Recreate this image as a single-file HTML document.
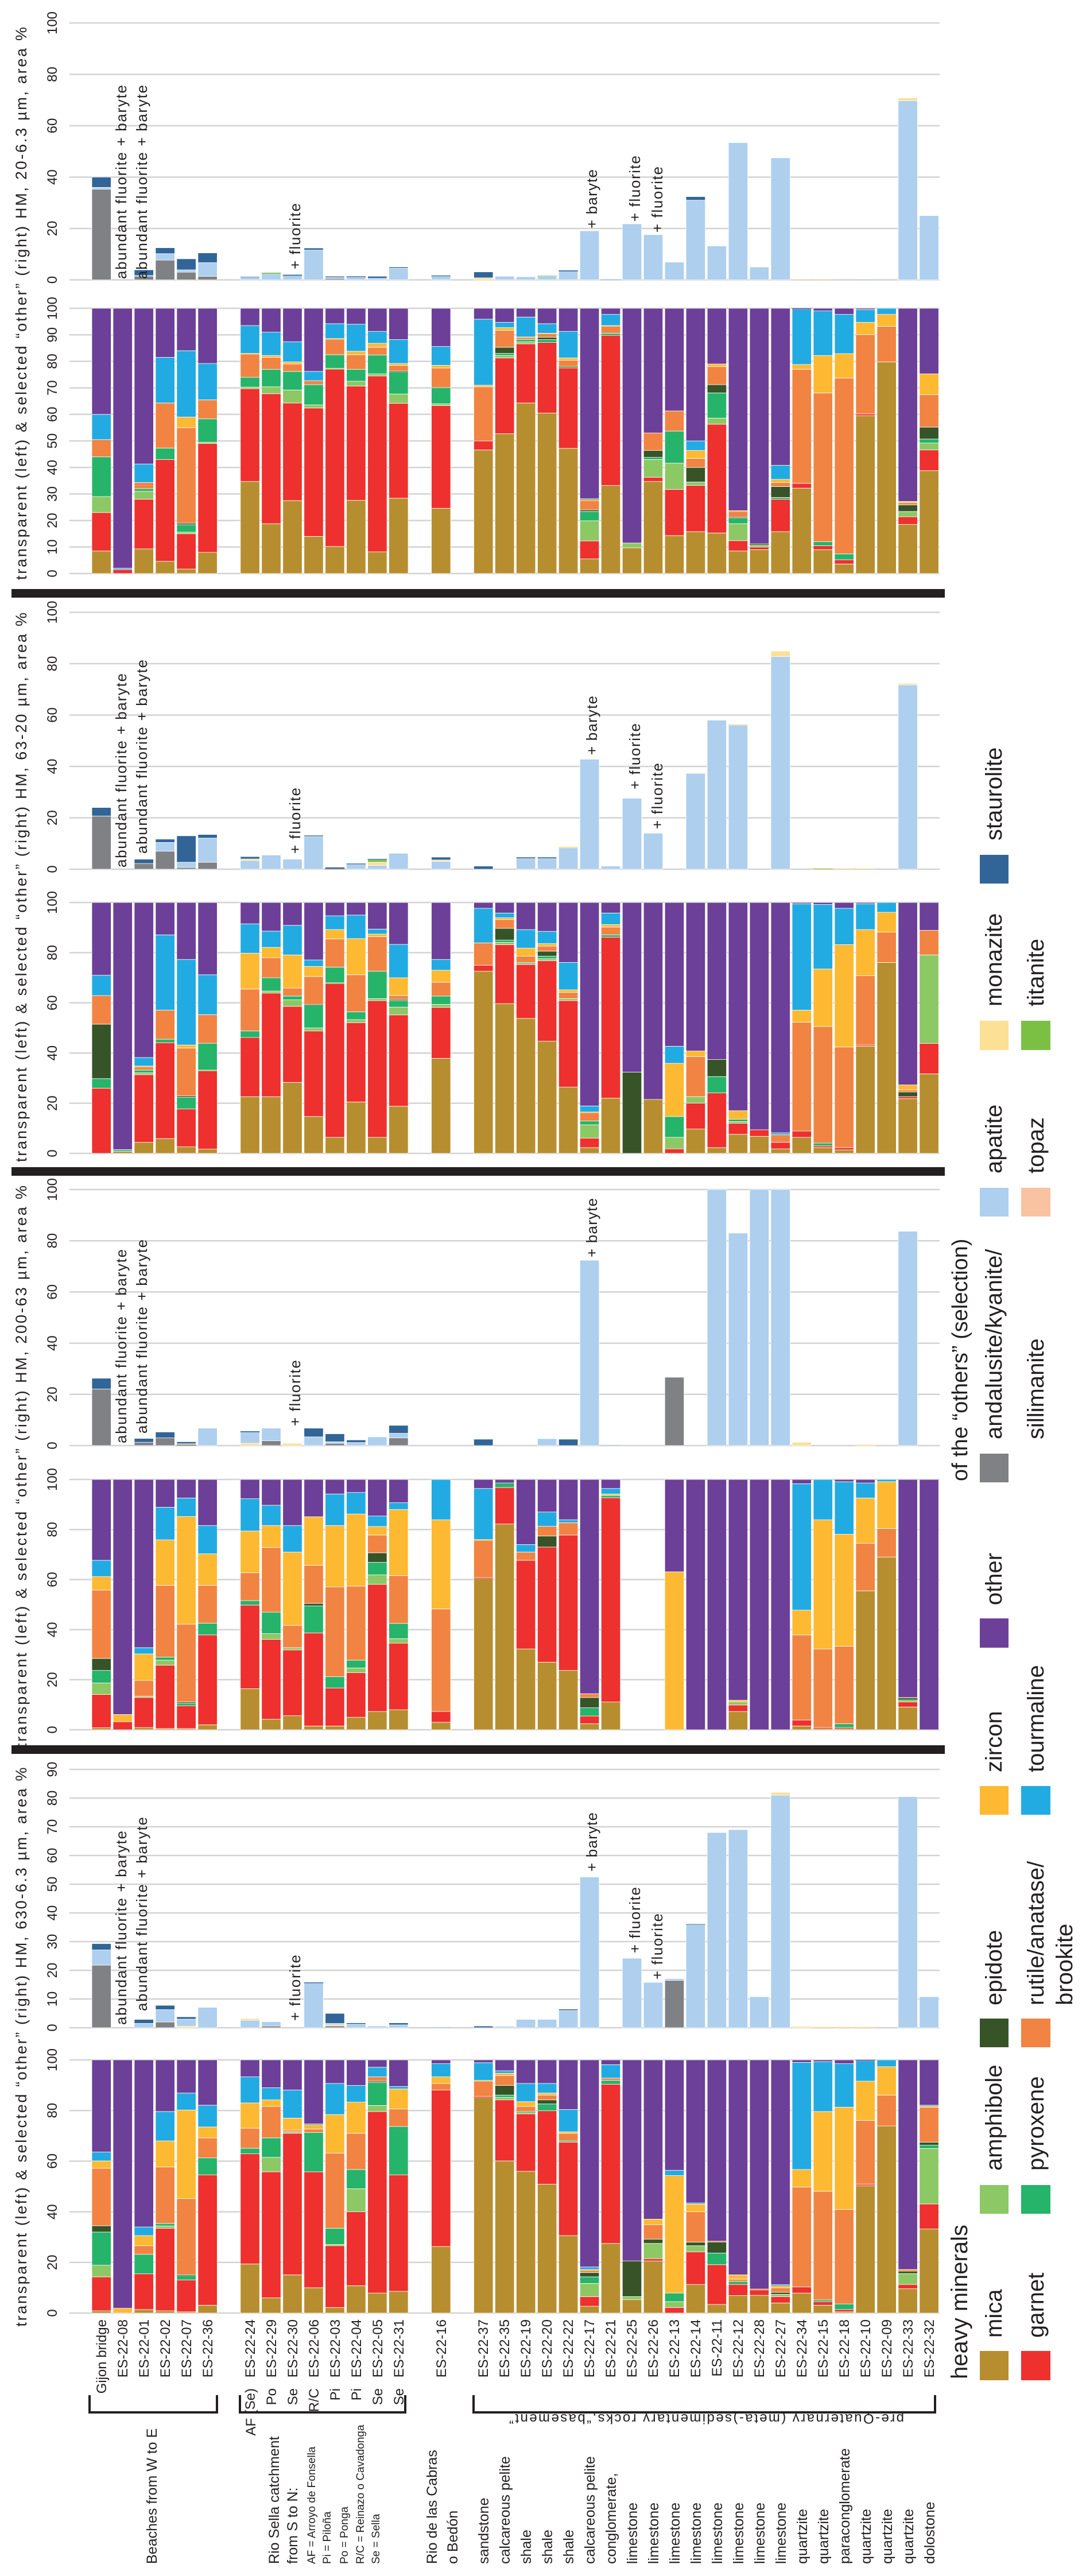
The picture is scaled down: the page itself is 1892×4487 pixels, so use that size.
<!DOCTYPE html>
<html><head><meta charset="utf-8"><style>
html,body{margin:0;padding:0;background:#fff}
svg{display:block}
text{font-family:"Liberation Sans",sans-serif;fill:#231f20}
.tk{font-size:24px;text-anchor:middle}
.ax{font-size:27px;text-anchor:middle;letter-spacing:1px}
.sl{font-size:24px;text-anchor:end}
.an{font-size:26px}
.gl{font-size:25px}
.sm{font-size:19px}
.lg{font-size:40px}
</style></head><body>
<svg id="s" width="1892" height="4487" viewBox="0 0 1892 4487" xmlns="http://www.w3.org/2000/svg">
<g id="grid"></g>
<g id="bars"></g>
<rect x="20" y="1026" width="1626" height="15" fill="#231f20"/>
<rect x="20" y="2033" width="1626" height="15" fill="#231f20"/>
<rect x="20" y="3040" width="1626" height="15" fill="#231f20"/>

<text class="ax" transform="translate(46,528) rotate(-90)" textLength="964" lengthAdjust="spacing">transparent (left) &amp; selected “other” (right) HM, 20-6.3 µm, area %</text>
<text class="ax" transform="translate(46,1545) rotate(-90)" textLength="958" lengthAdjust="spacing">transparent (left) &amp; selected “other” (right) HM, 63-20 µm, area %</text>
<text class="ax" transform="translate(46,2554) rotate(-90)" textLength="980" lengthAdjust="spacing">transparent (left) &amp; selected “other” (right) HM, 200-63 µm, area %</text>
<text class="ax" transform="translate(46,3565) rotate(-90)" textLength="975" lengthAdjust="spacing">transparent (left) &amp; selected “other” (right) HM, 630-6.3 µm, area %</text>

<g class="tk">
<text transform="translate(99,487.5) rotate(-90)">0</text><text transform="translate(99,398) rotate(-90)">20</text><text transform="translate(99,308.5) rotate(-90)">40</text><text transform="translate(99,219) rotate(-90)">60</text><text transform="translate(99,129.5) rotate(-90)">80</text><text transform="translate(99,40) rotate(-90)">100</text>
<text transform="translate(99,999) rotate(-90)">0</text><text transform="translate(99,952.8) rotate(-90)">10</text><text transform="translate(99,906.6) rotate(-90)">20</text><text transform="translate(99,860.4) rotate(-90)">30</text><text transform="translate(99,814.2) rotate(-90)">40</text><text transform="translate(99,768) rotate(-90)">50</text><text transform="translate(99,721.8) rotate(-90)">60</text><text transform="translate(99,675.6) rotate(-90)">70</text><text transform="translate(99,629.4) rotate(-90)">80</text><text transform="translate(99,583.2) rotate(-90)">90</text><text transform="translate(99,537) rotate(-90)">100</text>
<text transform="translate(99,1514) rotate(-90)">0</text><text transform="translate(99,1424.5) rotate(-90)">20</text><text transform="translate(99,1335) rotate(-90)">40</text><text transform="translate(99,1245.5) rotate(-90)">60</text><text transform="translate(99,1156) rotate(-90)">80</text><text transform="translate(99,1066.5) rotate(-90)">100</text>
<text transform="translate(99,2009) rotate(-90)">0</text><text transform="translate(99,1921.6) rotate(-90)">20</text><text transform="translate(99,1834.2) rotate(-90)">40</text><text transform="translate(99,1746.8) rotate(-90)">60</text><text transform="translate(99,1659.4) rotate(-90)">80</text><text transform="translate(99,1572) rotate(-90)">100</text>
<text transform="translate(99,2518) rotate(-90)">0</text><text transform="translate(99,2428.8) rotate(-90)">20</text><text transform="translate(99,2339.6) rotate(-90)">40</text><text transform="translate(99,2250.4) rotate(-90)">60</text><text transform="translate(99,2161.2) rotate(-90)">80</text><text transform="translate(99,2072) rotate(-90)">100</text>
<text transform="translate(99,3013) rotate(-90)">0</text><text transform="translate(99,2925.8) rotate(-90)">20</text><text transform="translate(99,2838.6) rotate(-90)">40</text><text transform="translate(99,2751.4) rotate(-90)">60</text><text transform="translate(99,2664.2) rotate(-90)">80</text><text transform="translate(99,2577) rotate(-90)">100</text>
<text transform="translate(99,3532) rotate(-90)">0</text><text transform="translate(99,3482) rotate(-90)">10</text><text transform="translate(99,3432) rotate(-90)">20</text><text transform="translate(99,3382) rotate(-90)">30</text><text transform="translate(99,3332) rotate(-90)">40</text><text transform="translate(99,3282) rotate(-90)">50</text><text transform="translate(99,3232) rotate(-90)">60</text><text transform="translate(99,3182) rotate(-90)">70</text><text transform="translate(99,3132) rotate(-90)">80</text><text transform="translate(99,3082) rotate(-90)">90</text>
<text transform="translate(99,4029) rotate(-90)">0</text><text transform="translate(99,3940.8) rotate(-90)">20</text><text transform="translate(99,3852.6) rotate(-90)">40</text><text transform="translate(99,3764.4) rotate(-90)">60</text><text transform="translate(99,3676.2) rotate(-90)">80</text><text transform="translate(99,3588) rotate(-90)">100</text>
</g>

<g class="an">
<text transform="translate(220,486) rotate(-90)" textLength="338" lengthAdjust="spacing">abundant fluorite + baryte</text>
<text transform="translate(256,486) rotate(-90)" textLength="338" lengthAdjust="spacing">abundant fluorite + baryte</text>
<text transform="translate(523,469) rotate(-90)" textLength="115" lengthAdjust="spacing">+ fluorite</text>
<text transform="translate(1040,398) rotate(-90)" textLength="103" lengthAdjust="spacing">+ baryte</text>
<text transform="translate(1115,386) rotate(-90)" textLength="115" lengthAdjust="spacing">+ fluorite</text>
<text transform="translate(1154,405) rotate(-90)" textLength="115" lengthAdjust="spacing">+ fluorite</text>

<text transform="translate(220,1511) rotate(-90)" textLength="338" lengthAdjust="spacing">abundant fluorite + baryte</text>
<text transform="translate(256,1487) rotate(-90)" textLength="338" lengthAdjust="spacing">abundant fluorite + baryte</text>
<text transform="translate(523,1487) rotate(-90)" textLength="115" lengthAdjust="spacing">+ fluorite</text>
<text transform="translate(1040,1315) rotate(-90)" textLength="103" lengthAdjust="spacing">+ baryte</text>
<text transform="translate(1115,1375) rotate(-90)" textLength="115" lengthAdjust="spacing">+ fluorite</text>
<text transform="translate(1154,1444) rotate(-90)" textLength="115" lengthAdjust="spacing">+ fluorite</text>

<text transform="translate(220,2514) rotate(-90)" textLength="338" lengthAdjust="spacing">abundant fluorite + baryte</text>
<text transform="translate(256,2497) rotate(-90)" textLength="338" lengthAdjust="spacing">abundant fluorite + baryte</text>
<text transform="translate(523,2484) rotate(-90)" textLength="115" lengthAdjust="spacing">+ fluorite</text>
<text transform="translate(1040,2190) rotate(-90)" textLength="103" lengthAdjust="spacing">+ baryte</text>

<text transform="translate(220,3527) rotate(-90)" textLength="338" lengthAdjust="spacing">abundant fluorite + baryte</text>
<text transform="translate(256,3503) rotate(-90)" textLength="338" lengthAdjust="spacing">abundant fluorite + baryte</text>
<text transform="translate(523,3520) rotate(-90)" textLength="115" lengthAdjust="spacing">+ fluorite</text>
<text transform="translate(1040,3260) rotate(-90)" textLength="103" lengthAdjust="spacing">+ baryte</text>
<text transform="translate(1115,3402) rotate(-90)" textLength="115" lengthAdjust="spacing">+ fluorite</text>
<text transform="translate(1154,3448) rotate(-90)" textLength="115" lengthAdjust="spacing">+ fluorite</text>
</g>

<g class="sl">
<text transform="translate(185,4040) rotate(-90)">Gijon bridge</text>
<text transform="translate(222,4040) rotate(-90)">ES-22-08</text>
<text transform="translate(259,4040) rotate(-90)">ES-22-01</text>
<text transform="translate(296,4040) rotate(-90)">ES-22-02</text>
<text transform="translate(333,4040) rotate(-90)">ES-22-07</text>
<text transform="translate(370,4040) rotate(-90)">ES-22-36</text>
<text transform="translate(444,4040) rotate(-90)">ES-22-24</text>
<text transform="translate(481,4040) rotate(-90)">ES-22-29</text>
<text transform="translate(518,4040) rotate(-90)">ES-22-30</text>
<text transform="translate(555,4040) rotate(-90)">ES-22-06</text>
<text transform="translate(592,4040) rotate(-90)">ES-22-03</text>
<text transform="translate(629,4040) rotate(-90)">ES-22-04</text>
<text transform="translate(666,4040) rotate(-90)">ES-22-05</text>
<text transform="translate(703,4040) rotate(-90)">ES-22-31</text>
<text transform="translate(444,4160) rotate(-90)">(Se)</text>
<text transform="translate(481,4160) rotate(-90)">Po</text>
<text transform="translate(518,4160) rotate(-90)">Se</text>
<text transform="translate(555,4160) rotate(-90)">R/C</text>
<text transform="translate(592,4160) rotate(-90)">Pi</text>
<text transform="translate(629,4160) rotate(-90)">Pi</text>
<text transform="translate(666,4160) rotate(-90)">Se</text>
<text transform="translate(703,4160) rotate(-90)">Se</text>
<text transform="translate(445,4212) rotate(-90)">AF</text>
<text transform="translate(777,4040) rotate(-90)">ES-22-16</text>
<text transform="translate(850,4040) rotate(-90)">ES-22-37</text>
<text transform="translate(887,4040) rotate(-90)">ES-22-35</text>
<text transform="translate(924,4040) rotate(-90)">ES-22-19</text>
<text transform="translate(961,4040) rotate(-90)">ES-22-20</text>
<text transform="translate(998,4040) rotate(-90)">ES-22-22</text>
<text transform="translate(1035,4040) rotate(-90)">ES-22-17</text>
<text transform="translate(1072,4040) rotate(-90)">ES-22-21</text>
<text transform="translate(1109,4040) rotate(-90)">ES-22-25</text>
<text transform="translate(1146,4040) rotate(-90)">ES-22-26</text>
<text transform="translate(1183,4040) rotate(-90)">ES-22-13</text>
<text transform="translate(1220,4040) rotate(-90)">ES-22-14</text>
<text transform="translate(1257,4040) rotate(-90)">ES-22-11</text>
<text transform="translate(1294,4040) rotate(-90)">ES-22-12</text>
<text transform="translate(1331,4040) rotate(-90)">ES-22-28</text>
<text transform="translate(1368,4040) rotate(-90)">ES-22-27</text>
<text transform="translate(1405,4040) rotate(-90)">ES-22-34</text>
<text transform="translate(1442,4040) rotate(-90)">ES-22-15</text>
<text transform="translate(1479,4040) rotate(-90)">ES-22-18</text>
<text transform="translate(1516,4040) rotate(-90)">ES-22-10</text>
<text transform="translate(1553,4040) rotate(-90)">ES-22-09</text>
<text transform="translate(1590,4040) rotate(-90)">ES-22-33</text>
<text transform="translate(1627,4040) rotate(-90)">ES-22-32</text>
</g>

<g fill="none" stroke="#231f20" stroke-width="4">
<path d="M156 4172 V4202 H378 V4172"/>
<path d="M418 4172 V4202 H706 V4172"/>
<path d="M825 4172 V4202 H1629 V4172"/>
</g>
<text style="font-size:24px;text-anchor:middle" transform="translate(1231,4205) rotate(180)" textLength="688" lengthAdjust="spacing">pre-Quaternary (meta-)sedimentary rocks,“basement”</text>

<g class="gl">
<text transform="translate(273,4466) rotate(-90)">Beaches from W to E</text>
<text transform="translate(486,4466) rotate(-90)">Rio Sella catchment</text>
<text transform="translate(518,4466) rotate(-90)">from S to N:</text>
<text transform="translate(761,4466) rotate(-90)">Rio de las Cabras</text>
<text transform="translate(797,4466) rotate(-90)">o Bedón</text>
<text transform="translate(851,4466) rotate(-90)">sandstone</text>
<text transform="translate(888,4466) rotate(-90)">calcareous pelite</text>
<text transform="translate(925,4466) rotate(-90)">shale</text>
<text transform="translate(962,4466) rotate(-90)">shale</text>
<text transform="translate(999,4466) rotate(-90)">shale</text>
<text transform="translate(1036,4466) rotate(-90)">calcareous pelite</text>
<text transform="translate(1073,4466) rotate(-90)">conglomerate,</text>
<text transform="translate(1110,4466) rotate(-90)">limestone</text>
<text transform="translate(1147,4466) rotate(-90)">limestone</text>
<text transform="translate(1184,4466) rotate(-90)">limestone</text>
<text transform="translate(1221,4466) rotate(-90)">limestone</text>
<text transform="translate(1258,4466) rotate(-90)">limestone</text>
<text transform="translate(1295,4466) rotate(-90)">limestone</text>
<text transform="translate(1332,4466) rotate(-90)">limestone</text>
<text transform="translate(1369,4466) rotate(-90)">limestone</text>
<text transform="translate(1406,4466) rotate(-90)">quartzite</text>
<text transform="translate(1443,4466) rotate(-90)">quartzite</text>
<text transform="translate(1480,4466) rotate(-90)">paraconglomerate</text>
<text transform="translate(1517,4466) rotate(-90)">quartzite</text>
<text transform="translate(1554,4466) rotate(-90)">quartzite</text>
<text transform="translate(1591,4466) rotate(-90)">quartzite</text>
<text transform="translate(1628,4466) rotate(-90)">dolostone</text>
</g>
<g class="sm">
<text transform="translate(549,4466) rotate(-90)">AF = Arroyo de Fonsella</text>
<text transform="translate(576,4466) rotate(-90)">Pi = Piloña</text>
<text transform="translate(606,4466) rotate(-90)">Po = Ponga</text>
<text transform="translate(634,4466) rotate(-90)">R/C = Reinazo o Cavadonga</text>
<text transform="translate(661,4466) rotate(-90)">Se = Sella</text>
</g>

<g>
<rect x="1707" y="1489" width="50" height="50" fill="#316598"/>
<rect x="1707" y="1778" width="50" height="51" fill="#fbe096"/>
<rect x="1779" y="1778" width="51" height="51" fill="#7bc043"/>
<rect x="1707" y="2069" width="50" height="50" fill="#aecfee"/>
<rect x="1779" y="2069" width="51" height="50" fill="#f9c3a1"/>
<rect x="1707" y="2532" width="50" height="50" fill="#808184"/>
<rect x="1707" y="2819" width="50" height="51" fill="#6c3f98"/>
<rect x="1707" y="3111" width="50" height="50" fill="#fdb931"/>
<rect x="1779" y="3111" width="51" height="50" fill="#22abe2"/>
<rect x="1707" y="3516" width="50" height="50" fill="#375429"/>
<rect x="1779" y="3516" width="51" height="50" fill="#f18442"/>
<rect x="1707" y="3806" width="50" height="50" fill="#8cc864"/>
<rect x="1779" y="3806" width="51" height="50" fill="#25b46a"/>
<rect x="1707" y="4095" width="50" height="51" fill="#b78e2f"/>
<rect x="1779" y="4095" width="51" height="51" fill="#ee302e"/>
</g>
<g class="lg">
<text transform="translate(1745,1464) rotate(-90)">staurolite</text>
<text transform="translate(1745,1753) rotate(-90)">monazite</text>
<text transform="translate(1818,1753) rotate(-90)">titanite</text>
<text transform="translate(1745,2044) rotate(-90)">apatite</text>
<text transform="translate(1818,2044) rotate(-90)">topaz</text>
<text style="font-size:38px" transform="translate(1685,2580) rotate(-90)">of the “others” (selection)</text>
<text transform="translate(1745,2507) rotate(-90)">andalusite/kyanite/</text>
<text transform="translate(1818,2507) rotate(-90)">sillimanite</text>
<text transform="translate(1745,2796) rotate(-90)">other</text>
<text transform="translate(1745,3087) rotate(-90)">zircon</text>
<text transform="translate(1818,3087) rotate(-90)">tourmaline</text>
<text transform="translate(1745,3493) rotate(-90)">epidote</text>
<text transform="translate(1818,3493) rotate(-90)">rutile/anatase/</text>
<text transform="translate(1868,3493) rotate(-90)">brookite</text>
<text transform="translate(1745,3781) rotate(-90)">amphibole</text>
<text transform="translate(1818,3781) rotate(-90)">pyroxene</text>
<text transform="translate(1685,4144) rotate(-90)">heavy minerals</text>
<text transform="translate(1745,4072) rotate(-90)">mica</text>
<text transform="translate(1818,4072) rotate(-90)">garnet</text>
</g>
</svg>
<script>
(function(){
var NS="http://www.w3.org/2000/svg";
var grid=document.getElementById("grid"),bars=document.getElementById("bars");
function R(p,x,y,w,h,f){if(h<=0.05)return;var r=document.createElementNS(NS,"rect");r.setAttribute("x",x);r.setAttribute("y",y);r.setAttribute("width",w);r.setAttribute("height",h);r.setAttribute("fill",f);if(h>2){r.setAttribute("stroke","#fff");r.setAttribute("stroke-width","0.8");}p.appendChild(r);}
function L(y){var l=document.createElementNS(NS,"line");l.setAttribute("x1",121);l.setAttribute("x2",1637);l.setAttribute("y1",y);l.setAttribute("y2",y);l.setAttribute("stroke","#d3d3d3");l.setAttribute("stroke-width","2.5");grid.appendChild(l);}
var LC=["#b78e2f","#ee302e","#8cc864","#25b46a","#375429","#f18442","#fdb931","#22abe2"],OTH="#6c3f98";
var TC={g:"#808184",a:"#aecfee",t:"#f9c3a1",m:"#fbe096",i:"#7bc043",s:"#316598"};
var P=[
{t0:487.5,t100:40,l0:999,l100:537,tt:[0,20,40,60,80,100],lt:[0,10,20,30,40,50,60,70,80,90,100],
low:{0:"8.5,23,29,44,44,50.5,50.5,60",1:"0,1.5,1.5,1.5,1.5,1.5,1.5,2",2:"9.3,28,31,32,32,34.3,34.3,41.3",3:"4.6,43,43,47.3,47.3,64.3,64.3,81.5",4:"1.7,15,15.6,18.4,19,55,59,84",5:"8,49,49.5,58.3,58.3,65.5,65.5,79.2",7:"34.7,69.7,70.3,74,74,82.7,83,93.5",8:"18.8,67.8,70.4,77,77,81.5,82.2,91",9:"27.5,64.3,69.2,76.2,76.2,79,79.8,87.4",10:"14,62.4,63.6,71.2,71.2,72.7,72.7,76.2",11:"10.2,77,77.4,82.5,82.5,88.3,88.6,94.2",12:"27.6,70.7,72.5,77,77,82.5,83.8,94",13:"8.2,74.5,75.3,82.4,82.4,85.3,86.8,91.3",14:"28.4,64.2,67.7,76,76.3,78.5,79.2,88.2",16:"24.6,63.3,64,70.1,70.1,77.5,78.5,85.6",18:"46.6,50,50,50,50,70.4,71,95.9",19:"52.7,81.3,82.2,83,85.3,91.7,92.7,94.7",20:"64.3,86.6,87.4,88.2,88.2,88.9,89.2,96.7",21:"60.5,87.1,87.1,88.2,89.1,90.4,90.6,94.2",22:"47.2,77.5,77.8,77.8,78.1,80.4,81.3,91.3",23:"5.5,12.3,19.9,23.4,24,27.5,27.9,28.2",24:"33.2,89.8,89.8,90.6,90.6,93.2,93.5,97.7",25:"9.7,9.7,11.5,11.5,11.5,11.5,11.5,11.5",26:"34.7,36.3,43,43.8,46.4,53,53,53",27:"14.3,31.7,41.6,53.7,53.7,61.3,61.3,61.3",28:"15.8,33.2,34.3,34.5,40,43.4,46.4,50",29:"15.3,56.3,58.6,68.1,71.2,78,79,79",30:"8.5,12.4,18.8,21,21.2,23.4,23.7,23.7",31:"9,10,10.8,10.8,11.2,11.2,11.2,11.2",32:"15.8,28,28,28.7,32.8,34.3,35.5,40.8",33:"32.2,34,34,34,34,77,78.8,99.7",34:"9,10.5,10.5,12,12,68.1,82.2,99",35:"3.6,5.2,5.2,7.4,7.4,73.7,82.9,97.7",36:"59.5,60.2,60.2,60.2,60.2,90.1,94.7,99.5",37:"79.8,79.8,79.8,79.8,79.8,93.2,97.7,100",38:"18.5,21.4,23.4,23.4,25.9,26.7,27.2,27.2",39:"38.8,46.6,49.2,50.7,55.2,67.4,75.3,75.3"},
top:{0:"g35.3 a36 s40",2:"g1.4 a1.7 s3.9",3:"g7.7 a10.2 s12.5",4:"g3 a3.9 s8.2",5:"g1.4 a6.7 s10.5",7:"a1.1 s1.25",8:"a2.4 i2.8",9:"a1.6 s2",10:"a11.6 s12.4",11:"g0.5 a0.9 s1.4",12:"a1.1 s1.4",13:"a0.6 s1.4",14:"a4.5 s5",16:"a1.4 s1.7",18:"m0.8 s3.1",19:"a1.4",20:"a1.2",21:"a1.4 i1.6",22:"a3.3 s3.7",23:"a19.1",24:"a0.3",25:"a21.8",26:"a17.6",27:"a6.9",28:"a31 s32.4",29:"a13.2",30:"a53.4",31:"a5",32:"a47.5",33:"m0.2",34:"m0.2",36:"a0.1",38:"a69.7 m70.8",39:"a25"}},
{t0:1514,t100:1066.5,l0:2009,l100:1572,tt:[0,20,40,60,80,100],lt:[0,20,40,60,80,100],
low:{0:"0,26,26,29.8,51.5,62.9,62.9,71",1:"0.8,0.8,0.8,1.4,1.4,1.4,1.4,1.5",2:"4.4,31.4,32.1,33.2,33.2,34.4,34.8,38.2",3:"5.9,44.1,44.1,45.5,45.5,57.1,57.1,87.1",4:"2.6,17.7,17.7,22.3,22.9,42,43.2,77.3",5:"1.7,32.9,33.2,43.9,43.9,55.3,55.3,71.2",7:"22.6,46.2,46.2,48.8,48.8,65.5,79.8,91.5",8:"22.6,63.9,64.7,70,70,78,82.1,88.6",9:"28.3,58.6,61.2,62.7,62.7,65.9,79.1,90.9",10:"14.7,48.8,50,59.1,59.4,70.5,74.5,77.1",11:"6.4,67.7,68,74.2,74.2,85.5,89.2,94.7",12:"20.5,52.1,53.3,56.4,56.4,71.2,85.6,95",13:"6.4,60.9,61.7,72.6,72.6,86.4,87.4,89.4",14:"18.8,55.2,58.3,60.9,61.4,62.9,70,83.3",16:"37.9,58.2,59.4,62.7,62.7,68.2,73,77.3",18:"72.6,75,75,75,75,83.9,83.9,97.7",19:"59.7,83.2,84.1,85,89.7,93.2,93.9,95.8",20:"53.8,75.3,75.8,76.1,76.1,78.6,81.8,89.2",21:"44.7,76.8,77.6,78.6,80.6,82.6,83.6,88.5",22:"26.4,60.9,61.7,61.7,61.7,64.2,65.2,76.1",23:"2.3,6.1,11.4,12.9,12.9,16.2,16.5,18.9",24:"22,86.2,86.2,87.1,87.1,90.2,91.2,95.8",25:"0,0,0,0,32.4,32.4,32.4,32.4",26:"21.5,21.5,21.5,21.5,21.5,21.5,21.5,21.5",27:"0,1.8,6.4,14.7,14.7,14.7,35.9,42.7",28:"9.7,20,22.6,22.6,22.6,38.6,40.8,40.8",29:"2.3,24.1,24.1,30.6,37.4,37.4,37.4,37.4",30:"7.6,12,12.7,13.6,13.6,13.6,17,17",31:"6.8,9.4,9.4,9.4,9.4,9.4,9.4,9.4",32:"1.8,4.4,4.4,4.4,4.4,7.4,7.4,8.2",33:"6.4,8.9,8.9,8.9,8.9,52.3,57.1,99.5",34:"2.3,3,3,4.1,4.1,50.6,73.5,99.2",35:"1.4,2.3,2.3,2.3,2.3,42.4,83.2,97.7",36:"42.7,43.2,43.2,43.2,43.2,70.8,89.2,99.5",37:"76.1,76.1,76.1,76.1,76.1,88.2,96.1,100",38:"21.8,22.6,22.6,22.6,24.5,25.3,27.3,27.3",39:"31.7,43.8,79.1,79.1,79.1,88.9,88.9,88.9"},
top:{0:"g20.7 s24",2:"g2.2 s3.9",3:"g7 a10.4 s11.7",4:"g0.7 a2.7 s13",5:"g2.7 a12.1 s13.5",7:"a3.4 m4 s4.9",8:"a5.5",9:"a3.9",10:"a12.7 s13.2",11:"g0.3 s0.7",12:"a1.9 s2.2",13:"a1.5 m2.7 i3.7 s4",14:"a6.2",16:"a3 m3.6 s4.7",18:"s1.2",20:"a4.1 s4.7",21:"a4.1 s4.7",22:"a8.3 m8.7",23:"a42.8",24:"a1.2",25:"a27.6",26:"a14",28:"a37.3",29:"a58",30:"a56.1 m56.4",32:"a82.8 m84.9",34:"i0.2 m0.4",35:"m0.3",36:"m0.2",38:"a71.7 m72.3"}},
{t0:2518,t100:2072,l0:3013,l100:2577,tt:[0,20,40,60,80,100],lt:[0,20,40,60,80,100],
low:{0:"0.8,14.1,18.7,23.7,28.5,55.8,61.2,67.7",1:"0,3.2,3.2,3.2,3.2,3.2,6.1,6.1",2:"0.9,12.9,13.4,13.4,13.4,19.7,30.3,32.8",3:"0.5,25.8,27.8,29,29,57.7,75.9,88.9",4:"0.5,9.6,9.6,10.6,11.1,42.2,85.2,92.6",5:"2,37.9,37.9,42.6,42.6,57.7,70.3,81.6",7:"16.4,49.8,49.8,51.6,51.6,62.7,79.4,92.3",8:"4.2,36.1,38.4,47,47,72.8,81.6,89.7",9:"5.6,31.9,32.8,32.8,32.8,41.7,71,81.6",10:"1.5,38.7,38.7,49.5,50.5,65.7,85.1,85.1",11:"1.5,16.7,16.7,21.2,21.2,57.1,81.6,94.2",12:"5,22.8,24.7,27.8,27.8,57.4,86.2,94.8",13:"7.3,58.1,61.9,66.9,70.7,77.8,81.2,85.4",14:"8,34.6,36.4,42.5,42.5,61.6,88,90.7",16:"3,7.3,7.3,7.3,7.3,48.3,83.9,100",18:"60.4,60.8,60.8,60.8,60.8,75.6,76,96.4",19:"82.2,96.8,96.8,98.6,98.6,98.6,98.6,98.6",20:"32.3,67.7,67.7,67.7,67.7,71,71,74",21:"27,73,73,73,77.4,81.3,81.3,87",22:"23.7,77.8,77.8,77.8,77.8,82.7,82.7,83.9",23:"2.4,5.5,5.5,8.8,12.9,14.4,14.4,14.4",24:"11.1,92.7,92.7,93.6,93.6,93.6,94.2,96.4",27:"0,0,0,0,0,0,63.1,63.1",28:"0,0,0,0,0,0,0,0",29:"0,0,0,0,0,0,0,0",30:"7.3,9.9,11.1,11.1,11.1,11.1,11.8,11.8",31:"0,0,0,0,0,0,0,0",32:"0,0,0,0,0,0,0,0",33:"1.5,3.9,3.9,3.9,3.9,37.9,47.8,98.3",34:"0.5,0.9,0.9,0.9,0.9,32.3,83.9,100",35:"0.5,0.9,0.9,2.4,2.4,33.4,78.1,99.1",36:"55.5,55.5,55.5,55.5,55.5,74.5,92.6,98.6",37:"69,69,69,69,69,80.4,99.1,100",38:"9.1,11.1,11.8,12.2,12.6,12.9,12.9,12.9",39:"0,0,0,0,0,0,0,0"},
top:{0:"g22.1 s26.3",2:"g1.3 s2.8",3:"g3 s5.3",4:"g0.4 m0.7 s1.5",5:"a6.8",7:"m0.9 a5.2 s5.6",8:"g1.9 a6.8",9:"m0.9",10:"a3.4 s6.8",11:"g0.9 a1.5 s4.6",12:"a1.2 s2.2",13:"a3.4",14:"g3 a4.8 s7.9",18:"s2.5",21:"a2.7",22:"s2.5",23:"a72.4",24:"a0.2",27:"g26.7",29:"a100",30:"a83",31:"a100",32:"a100",33:"m1.3",36:"m0.5",38:"a83.7"}},
{t0:3532,t100:3032,l0:4029,l100:3588,tt:[0,10,20,30,40,50,60,70,80,90],lt:[0,20,40,60,80,100],
low:{0:"0.9,14.3,18.9,32,34.5,57.2,60.1,63.6",1:"0,0,0,0,0,0,1.9,1.9",2:"1.4,15.5,15.5,23.2,23.2,26.6,30.6,34",3:"0.9,33.5,34.4,35.4,35.4,57.7,68,79.6",4:"0.5,13.1,13.1,14.8,15.1,45.2,80.2,86.9",5:"3.1,54.6,54.6,61.3,61.3,69.2,73.5,82.1",7:"19.4,62.9,62.9,65.1,65.1,73,83,93.3",8:"6,55.8,61.5,69.2,69.2,81.6,84.2,89",9:"15.1,71,71.6,71.6,71.6,72.3,77,88.1",10:"10,55.8,55.8,71.3,71.3,72.7,74.4,74.7",11:"2.2,26.6,27.1,33.5,33.5,63.2,78.4,90.7",12:"10.8,40,49.1,56.7,56.7,71,83.3,89.9",13:"7.9,79.6,82,91.1,91.6,93.3,93.3,97.1",14:"8.6,54.6,54.6,73.7,73.7,80.6,88.5,89.5",16:"26.3,88.1,88.1,88.1,88.1,90.7,93.3,98.5",18:"85.2,85.6,85.6,85.6,85.6,91.6,91.9,98.9",19:"60.1,84.2,85.2,86.1,89.9,93.8,94.7,95.7",20:"56,78.7,79.2,79.6,79.6,81.6,83.5,90.7",21:"50.9,79.9,79.9,82.6,84.2,86.1,86.9,90.7",22:"30.6,67.5,67.5,68,68,71,71.6,80.4",23:"2.7,6.5,11.7,14.3,16,16.8,17.2,18.2",24:"27.5,90.4,90.4,91.9,91.9,92.8,92.8,98.1",25:"5.3,5.3,6.5,6.5,20.6,20.6,20.6,20.6",26:"20.6,21.5,27.5,27.5,29.2,34.9,37.1,37.1",27:"0,2.2,4.5,7.9,7.9,7.9,54.3,56.4",28:"11.3,24.2,26.6,26.6,28,40,43,43.5",29:"3.4,19.1,19.1,23.7,28,28.4,28.4,28.4",30:"6.9,11.3,11.3,12.5,12.5,13.4,15.1,15.1",31:"7,9.1,9.1,9.1,9.1,9.5,9.5,9.5",32:"4,6.5,7.4,7.4,8.2,10,10.8,11.2",33:"7.9,10.3,10.3,10.3,10.3,49.8,56.7,99",34:"3.1,4.5,4.5,5.2,5.2,48.1,79.6,99.3",35:"0.5,1.4,1.4,3.6,3.6,40.9,81.3,98.5",36:"50.3,50.9,50.9,50.9,50.9,76.1,91.6,99.7",37:"73.9,73.9,73.9,73.9,73.9,86.1,97.3,100",38:"9.6,11.3,15.6,15.6,16.5,16.8,17.2,17.2",39:"33.2,43.1,65,66.3,67.5,81.3,81.8,82.1"},
top:{0:"g21.8 a27.1 s29.3",2:"a1.5 s2.9",3:"g2 a6.3 s7.8",4:"m0.5 a3 s3.8",5:"a7.1",7:"a2.6 m3.2",8:"g0.6 a2.1",10:"a15.5 s15.8",11:"g0.6 m1 a1.5 s5",12:"a1.2 s1.7",13:"a0.6",14:"a1 s1.7",16:"a0.2",18:"s0.6",19:"a0.5",20:"a2.9",21:"a2.9",22:"a6 s6.5",23:"a52.5",25:"a24.2",26:"a15.8",27:"g16.5 a17.1",28:"a35.9 s36.1",29:"a68",30:"a69",31:"a10.8",32:"a81 m82",33:"m0.5",34:"m0.3",35:"m0.3",36:"m0.3",38:"a80.5",39:"a10.8"}}
];
P.forEach(function(p){
 var ts=(p.t0-p.t100)/100, ls=(p.l0-p.l100)/100;
 p.tt.forEach(function(v){L(p.t0-v*ts);});
 p.lt.forEach(function(v){L(p.l0-v*ls);});
 for(var s=0;s<40;s++){
  var x=160+s*36.97,w=33.5;
  var lo=p.low[s];
  if(lo){var v=lo.split(",").map(Number),prev=0;
   for(var i=0;i<8;i++){R(bars,x,p.l0-v[i]*ls,w,(v[i]-prev)*ls,LC[i]);prev=Math.max(prev,v[i]);}
   R(bars,x,p.l100,w,(100-prev)*ls,OTH);}
  var tp=p.top[s];
  if(tp){var prev2=0;tp.split(" ").forEach(function(it){var c=it[0],val=parseFloat(it.slice(1));R(bars,x,p.t0-val*ts,w,Math.max((val-prev2)*ts,0),TC[c]);prev2=val;});}
 }
});
})();
</script>
</body></html>
